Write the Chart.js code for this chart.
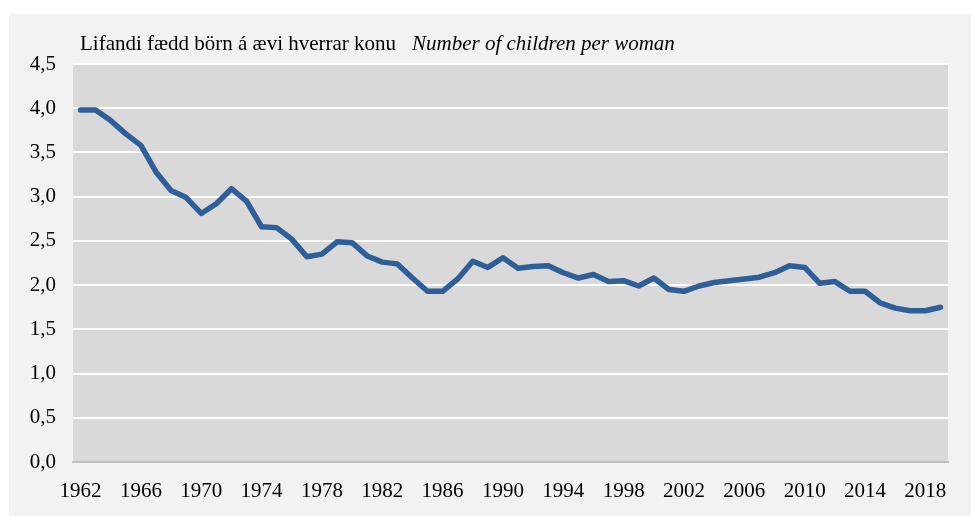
<!DOCTYPE html>
<html>
<head>
<meta charset="utf-8">
<script src="https://cdn.jsdelivr.net/npm/chart.js@4/dist/chart.umd.min.js"></script>
<style>
html,body{margin:0;padding:0;background:#ffffff;}
#wrap{width:971px;height:516px;position:relative;}
</style>
</head>
<body>
<div id="wrap"><canvas id="c" width="971" height="516"></canvas></div>
<script>
const years = [];
for (let y = 1962; y <= 2019; y++) years.push(String(y));
const fertility = [3.98,3.98,3.86,3.71,3.58,3.28,3.07,2.99,2.81,2.92,
  3.09,2.95,2.66,2.65,2.52,2.32,2.35,2.49,2.48,2.33,
  2.26,2.24,2.08,1.93,1.93,2.07,2.27,2.20,2.31,2.19,
  2.21,2.22,2.14,2.08,2.12,2.04,2.05,1.99,2.08,1.95,
  1.93,1.99,2.03,2.05,2.07,2.09,2.14,2.22,2.20,2.02,
  2.04,1.93,1.93,1.80,1.74,1.71,1.71,1.75];
const titleMain = "Lifandi fædd börn á ævi hverrar konu";
const titleEn = "Number of children per woman";
const shownYears = ["1962","1966","1970","1974","1978","1982","1986","1990","1994","1998","2002","2006","2010","2014","2018"];

const FONT = "'Liberation Serif', 'Times New Roman', serif";

const bgPlugin = {
  id: 'bg',
  beforeDraw(chart) {
    const ctx = chart.ctx, a = chart.chartArea;
    ctx.save();
    ctx.fillStyle = '#ffffff';
    ctx.fillRect(0, 0, chart.width, chart.height);
    ctx.fillStyle = '#f2f2f2';
    ctx.fillRect(9, 14, chart.width - 9, chart.height - 14);
    ctx.fillStyle = '#d9d9d9';
    ctx.fillRect(a.left, a.top, a.right - a.left, a.bottom - a.top);
    ctx.restore();
  },
  afterDraw(chart) {
    const ctx = chart.ctx;
    ctx.save();
    ctx.fillStyle = '#000000';
    ctx.textBaseline = 'alphabetic';
    ctx.font = "21px " + FONT;
    ctx.fillText(titleMain, 80, 50);
    ctx.font = "italic 21px " + FONT;
    ctx.fillText(titleEn, 412, 50);
    ctx.restore();
  }
};

new Chart(document.getElementById('c'), {
  type: 'line',
  data: {
    labels: years,
    datasets: [{
      data: fertility,
      borderColor: '#2f5f98',
      borderWidth: 5.5,
      pointRadius: 0,
      tension: 0,
      fill: false,
      borderJoinStyle: 'round',
      borderCapStyle: 'round'
    }]
  },
  options: {
    responsive: false,
    animation: false,
    devicePixelRatio: 1,
    layout: { padding: { top: 64, right: 23, bottom: 0, left: 0 } },
    plugins: { legend: { display: false }, title: { display: false }, tooltip: { enabled: false } },
    scales: {
      x: {
        type: 'category',
        offset: true,
        afterFit(s) { s.height = 54; },
        grid: { display: false, drawTicks: false },
        border: { display: true, color: '#bfbfbf', width: 2 },
        ticks: {
          autoSkip: false, maxRotation: 0, minRotation: 0, padding: 17,
          color: '#000000', font: { family: FONT, size: 21 },
          callback(v) { const l = this.getLabelForValue(v); return shownYears.includes(l) ? l : ''; }
        }
      },
      y: {
        min: 0, max: 4.5,
        afterFit(s) { s.width = 73; },
        grid: { color: '#ffffff', lineWidth: 2, drawTicks: false },
        border: { display: false },
        ticks: {
          stepSize: 0.5, padding: 17, color: '#000000',
          font: { family: FONT, size: 21 },
          callback(v) { return v.toFixed(1).replace('.', ','); }
        }
      }
    }
  },
  plugins: [bgPlugin]
});
</script>
</body>
</html>
